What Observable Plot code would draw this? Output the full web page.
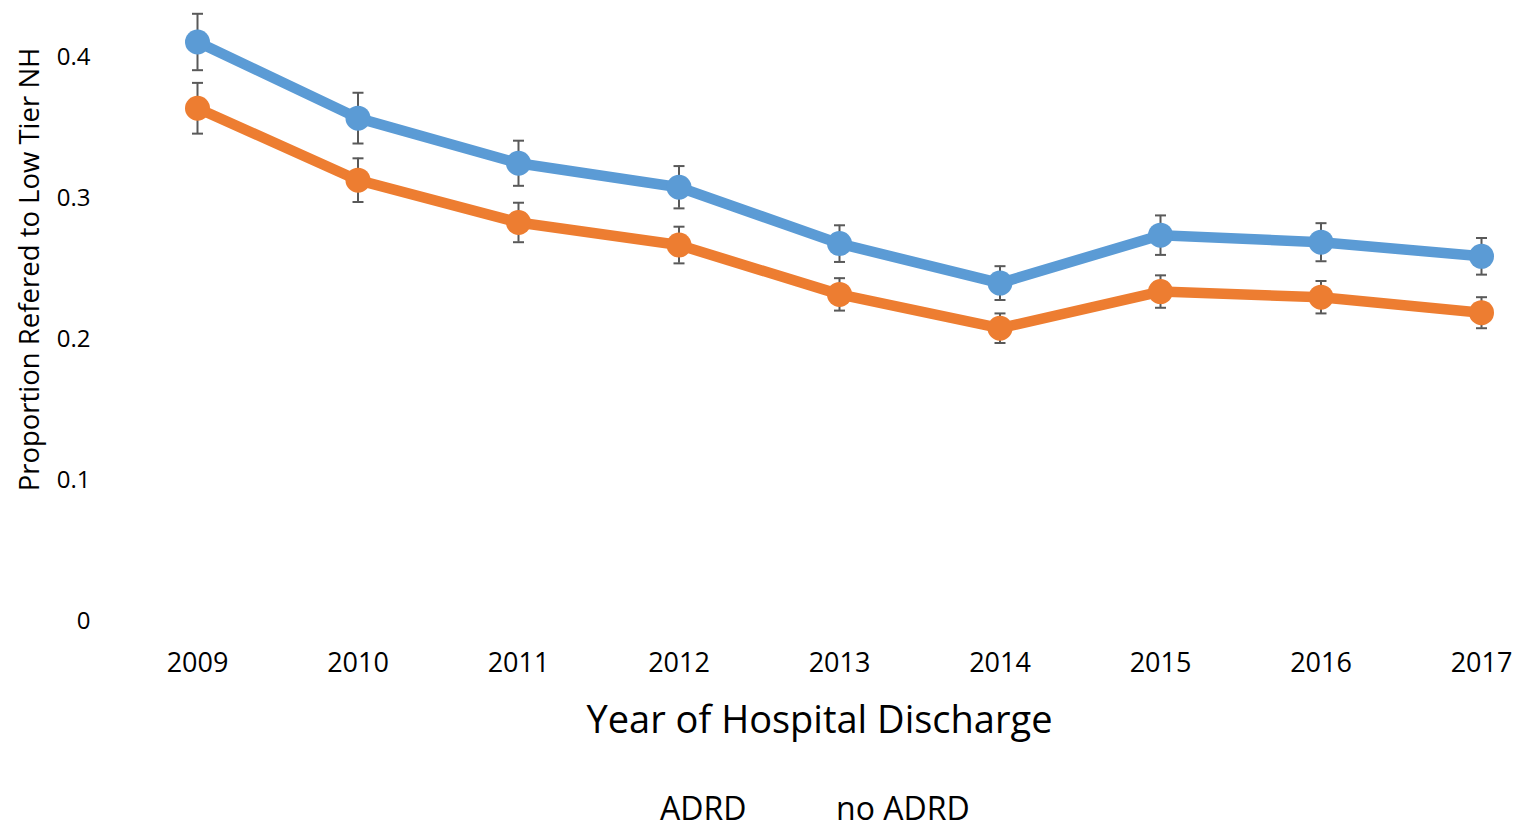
<!DOCTYPE html>
<html>
<head>
<meta charset="utf-8">
<script src="https://cdn.jsdelivr.net/npm/d3@7"></script>
<script src="https://cdn.jsdelivr.net/npm/@observablehq/plot@0.6"></script>
<style>
  html, body { margin: 0; padding: 0; background: #fff; overflow: hidden; }
  #wrap { position: relative; width: 1515px; height: 826px; }
  #legend { position: absolute; top: 792px; left: 0; width: 1515px; height: 32px;
            font-family: "Open Sans", sans-serif; font-size: 32px; line-height: 32px; color: #000; }
  #legend span { position: absolute; white-space: nowrap; }
</style>
</head>
<body>
<div id="wrap">
  <div id="chart"></div>
  <div id="legend"></div>
</div>
<script>
const years = [2009, 2010, 2011, 2012, 2013, 2014, 2015, 2016, 2017];
const seriesNames = ["ADRD", "no ADRD"];
const adrd = [0.411, 0.357, 0.325, 0.308, 0.268, 0.240, 0.274, 0.269, 0.259];
const adrdErr = [0.020, 0.018, 0.016, 0.015, 0.013, 0.012, 0.014, 0.0135, 0.013];
const noAdrd = [0.364, 0.313, 0.283, 0.267, 0.232, 0.208, 0.234, 0.230, 0.219];
const noAdrdErr = [0.018, 0.0155, 0.014, 0.013, 0.0115, 0.0105, 0.0115, 0.0115, 0.011];
const yTicks = [0, 0.1, 0.2, 0.3, 0.4];
const xTitle = "Year of Hospital Discharge";
const yTitle = "Proportion Refered to Low Tier NH";
const colors = ["#5B9BD5", "#ED7D31"];

const data = [];
years.forEach((yr, i) => {
  data.push({year: yr, series: seriesNames[0], value: adrd[i], err: adrdErr[i]});
  data.push({year: yr, series: seriesNames[1], value: noAdrd[i], err: noAdrdErr[i]});
});

const capSymbol = {
  draw(context) {
    context.moveTo(-5.5, 0);
    context.lineTo(5.5, 0);
  }
};

const font = "'Open Sans', sans-serif";

const chart = Plot.plot({
  width: 1515,
  height: 760,
  marginLeft: 197,
  marginRight: 34,
  marginTop: 57,
  marginBottom: 139,
  style: {fontFamily: font, fontSize: "24px", color: "#000", background: "#fff"},
  x: {domain: [2009, 2017]},
  y: {domain: [0, 0.4]},
  color: {domain: seriesNames, range: colors},
  marks: [
    Plot.axisX({ticks: years, tickFormat: "d", tickSize: 0, tickPadding: 31, label: null, fontSize: 27, fill: "#000"}),
    Plot.axisY({ticks: yTicks, tickFormat: d => d === 0 ? "0" : d3.format(".1f")(d), tickSize: 0, tickPadding: 107, label: null, fontSize: 24, fill: "#000"}),
    Plot.ruleX(data, {x: "year", y1: d => d.value - d.err, y2: d => d.value + d.err, stroke: "#595959", strokeWidth: 2}),
    Plot.dot(data, {x: "year", y: d => d.value + d.err, symbol: capSymbol, stroke: "#595959", strokeWidth: 2, fill: "none"}),
    Plot.dot(data, {x: "year", y: d => d.value - d.err, symbol: capSymbol, stroke: "#595959", strokeWidth: 2, fill: "none"}),
    Plot.line(data, {x: "year", y: "value", z: "series", stroke: "series", strokeWidth: 10.5, strokeLinejoin: "round", strokeLinecap: "round"}),
    Plot.dot(data, {x: "year", y: "value", fill: "series", r: 12.5, stroke: null}),
    Plot.text([xTitle], {frameAnchor: "bottom", dx: -20, dy: 111, fontSize: 38, fill: "#000"}),
    Plot.text([yTitle], {frameAnchor: "left", textAnchor: "middle", rotate: -90, dx: -167, dy: -70, fontSize: 27.5, fill: "#000"})
  ]
});
document.getElementById("chart").appendChild(chart);

const legend = document.getElementById("legend");
const legendLeft = [660, 836];
seriesNames.forEach((name, i) => {
  const s = document.createElement("span");
  s.textContent = name;
  s.style.left = legendLeft[i] + "px";
  legend.appendChild(s);
});
</script>
</body>
</html>
